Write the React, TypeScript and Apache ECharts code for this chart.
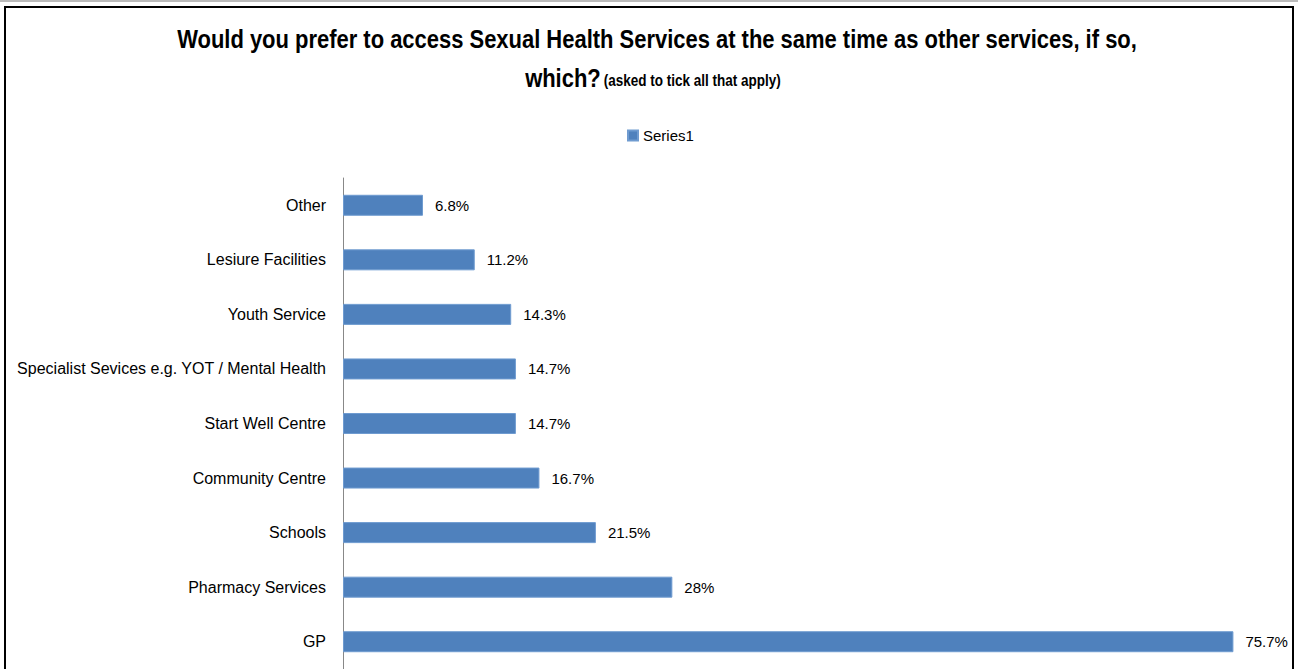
import React, { useEffect, useRef } from "react";
import * as echarts from "echarts";

const categories = [
  "GP",
  "Pharmacy Services",
  "Schools",
  "Community Centre",
  "Start Well Centre",
  "Specialist Sevices e.g. YOT / Mental Health",
  "Youth Service",
  "Lesiure Facilities",
  "Other",
];
const values = [75.7, 28, 21.5, 16.7, 14.7, 14.7, 14.3, 11.2, 6.8];
const seriesName = "Series1";
const titleLine1 = "Would you prefer to access Sexual Health Services at the same time as other services, if so,";
const titleLine2Main = "which?";
const titleLine2Note = "(asked to tick all that apply)";

const FONT = "'Liberation Sans', Arial, sans-serif";

export default function App() {
  const ref = useRef<HTMLDivElement>(null);
  useEffect(() => {
    if (!ref.current) return;
    const chart = echarts.init(ref.current, undefined, { renderer: "svg" });
    chart.setOption({
      animation: false,
      backgroundColor: "#fff",
      graphic: [
        {
          type: "rect",
          shape: { x: 5, y: 7, width: 1288, height: 700 },
          style: { fill: "none", stroke: "#000", lineWidth: 2 },
          z: 100,
        },
        {
          type: "line",
          shape: { x1: 0, y1: 1, x2: 1298, y2: 1 },
          style: { stroke: "#bbb", lineWidth: 2 },
        },
        {
          type: "text",
          x: 657,
          y: 39,
          scaleX: 0.845,
          style: {
            text: titleLine1,
            fontFamily: FONT,
            fontSize: 26,
            fontWeight: "bold",
            fill: "#000",
            align: "center",
            verticalAlign: "middle",
          },
        },
        {
          type: "text",
          x: 653,
          y: 78,
          scaleX: 0.845,
          style: {
            text: "{b|" + titleLine2Main + "} {s|" + titleLine2Note + "}",
            align: "center",
            verticalAlign: "middle",
            rich: {
              b: { fontFamily: FONT, fontSize: 26, fontWeight: "bold", fill: "#000", color: "#000" },
              s: { fontFamily: FONT, fontSize: 16, fontWeight: "bold", fill: "#000", color: "#000", padding: [6, 0, 0, 0] },
            },
          },
        },
      ],
      legend: {
        data: [seriesName],
        top: 123,
        left: 622,
        itemWidth: 10,
        itemHeight: 10,
        itemGap: 4,
        icon: "rect",
        textStyle: { fontFamily: FONT, fontSize: 15, color: "#000" },
      },
      grid: { left: 343, right: 14, top: 178, bottom: -2, containLabel: false },
      xAxis: {
        type: "value",
        min: 0,
        max: 80,
        show: false,
      },
      yAxis: {
        type: "category",
        data: categories,
        axisLine: { show: true, lineStyle: { color: "#888", width: 1 } },
        axisTick: { show: false },
        axisLabel: { fontFamily: FONT, fontSize: 16, color: "#000", margin: 17 },
      },
      series: [
        {
          name: seriesName,
          type: "bar",
          data: values,
          barWidth: 21,
          itemStyle: { color: "#4F81BD", borderColor: "#6f9bd0", borderWidth: 1 },
          label: {
            show: true,
            position: "right",
            distance: 12,
            fontFamily: FONT,
            fontSize: 15,
            color: "#000",
            formatter: (p: any) => p.value + "%",
          },
        },
      ],
    });
    return () => chart.dispose();
  }, []);
  return <div ref={ref} style={{ width: 1298, height: 669, position: "fixed", left: 0, top: 0 }} />;
}
